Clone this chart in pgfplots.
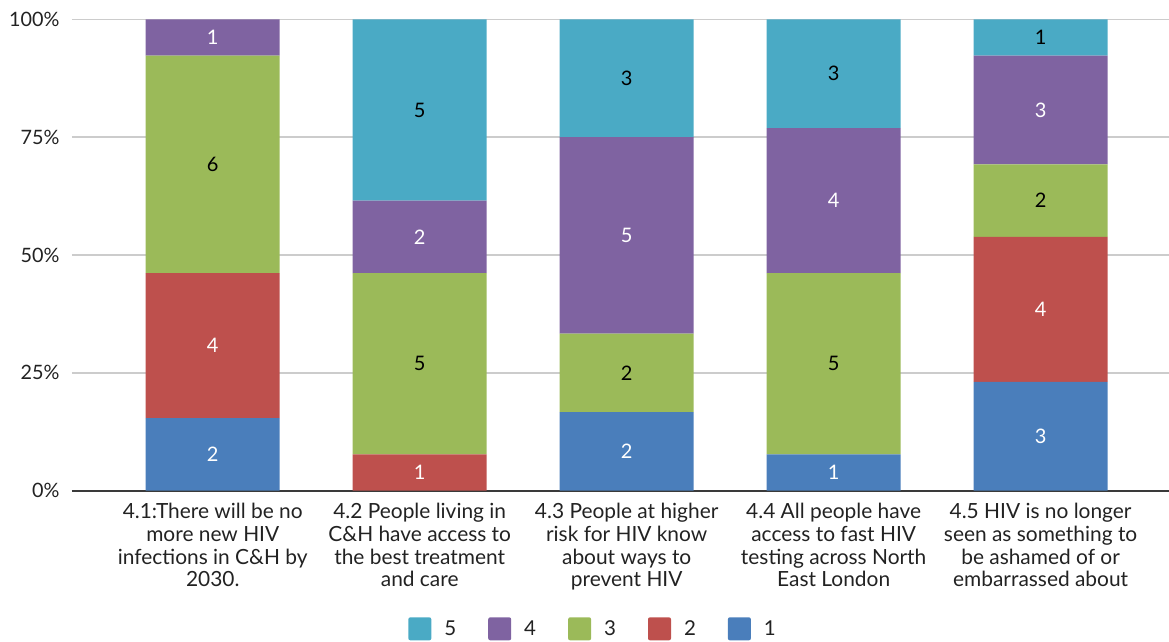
\documentclass[border=0pt]{standalone}
\usepackage{pgfplots}
\pgfplotsset{compat=1.18}
\usepackage{pgfplotstable}
\usepackage{fontspec}
\setmainfont{Lato}

\definecolor{c1col}{HTML}{4A7EBB}
\definecolor{c2col}{HTML}{BE504D}
\definecolor{c3col}{HTML}{9BBA59}
\definecolor{c4col}{HTML}{7F63A1}
\definecolor{c5col}{HTML}{4AAAC5}
\definecolor{txt}{HTML}{222222}
\definecolor{gridc}{HTML}{CCCCCC}
\definecolor{axisc}{HTML}{3A3A3A}

% number of answers per score (1-5) for each statement; n = answers in total
\pgfplotstableread{
x c1 c2 c3 c4 c5 n
0 2 4 6 1 0 13
1 0 1 5 2 5 13
2 2 0 2 5 3 12
3 1 0 5 4 3 13
4 3 4 2 3 1 13
}\answers

\pgfplotsset{
  seg/.style n args={3}{
    fill=#2, draw=none,
    point meta=explicit symbolic,
    nodes near coords={\ifnum\pgfplotspointmeta>0 \pgfplotspointmeta\fi},
    every node near coord/.style={anchor=center, text=#3,
      font=\fontsize{20}{22}\selectfont},
  },
}

\begin{document}
\begin{tikzpicture}
\begin{axis}[
  at={(0pt,0pt)}, anchor=south west,
  scale only axis, width=1097pt, height=471.4pt,
  ybar stacked, bar width=134pt,
  xmin=-0.68, xmax=4.62, ymin=0, ymax=100,
  axis x line*=bottom, axis y line*=left,
  y axis line style={draw=none},
  x axis line style={draw=axisc, line width=2.4pt, -},
  major tick length=0pt, tick style={draw=none},
  ymajorgrids, grid style={draw=gridc, line width=1.4pt},
  ytick={0,25,50,75,100},
  yticklabels={0\%,25\%,50\%,75\%,100\%},
  yticklabel style={font=\fontsize{19.8}{22}\selectfont, text=txt, xshift=-9pt},
  xtick={0,1,2,3,4},
  xticklabels={
    {4.1:There will be no\\more new HIV\\infections in C\&H by\\2030.},
    {4.2 People living in\\C\&H have access to\\the best treatment\\and care},
    {4.3 People at higher\\risk for HIV know\\about ways to\\prevent HIV},
    {4.4 All people have\\access to fast HIV\\testing across North\\East London},
    {4.5 HIV is no longer\\seen as something to\\be ashamed of or\\embarrassed about}},
  xticklabel style={font=\fontsize{20.9}{22.7}\selectfont, text=txt, align=center, yshift=-9pt},
  legend columns=5,
  reverse legend,
  legend image code/.code={\fill[#1, rounded corners=2pt] (0pt,-11.5pt) rectangle (23pt,11.5pt);},
  legend style={at={(0.475,-0.293)}, anchor=center, draw=none, fill=none,
    font=\fontsize{20.5}{22}\selectfont, text=txt,
    /tikz/every odd column/.append style={column sep=11pt},
    /tikz/every even column/.append style={column sep=30pt}},
]
\addplot[seg={c1}{c1col}{white}] table[x=x, y expr=100*\thisrow{c1}/\thisrow{n}, meta=c1] {\answers};
\addplot[seg={c2}{c2col}{white}] table[x=x, y expr=100*\thisrow{c2}/\thisrow{n}, meta=c2] {\answers};
\addplot[seg={c3}{c3col}{black}] table[x=x, y expr=100*\thisrow{c3}/\thisrow{n}, meta=c3] {\answers};
\addplot[seg={c4}{c4col}{white}] table[x=x, y expr=100*\thisrow{c4}/\thisrow{n}, meta=c4] {\answers};
\addplot[seg={c5}{c5col}{black}] table[x=x, y expr=100*\thisrow{c5}/\thisrow{n}, meta=c5] {\answers};
\legend{1,2,3,4,5}
\end{axis}
\pgfresetboundingbox
\path[use as bounding box] (-72pt,-150.3pt) rectangle (1097pt,490.7pt);
\end{tikzpicture}
\end{document}
